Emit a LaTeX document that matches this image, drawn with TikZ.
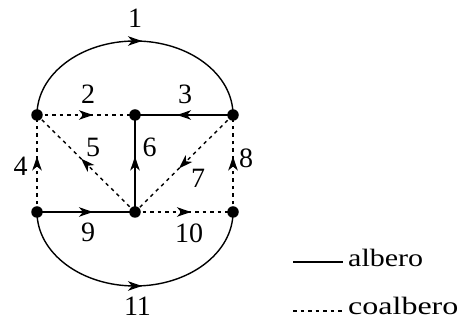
\documentclass[tikz,border=0pt]{standalone}
\usepackage{graphicx}
\usepackage{fontspec}
\setmainfont{Liberation Serif}
\usetikzlibrary{arrows.meta,decorations.markings}
\begin{document}
\begin{tikzpicture}[x=1pt,y=1pt,
  vtx/.style={circle,fill,inner sep=0pt,minimum size=11.5pt},
  edge/.style={line width=1.4pt},
  coedge/.style={line width=1.4pt,dash pattern=on 3.5pt off 4pt},
  midarrow/.style={postaction={decorate,decoration={markings,mark=at position 0.5 with {\arrow[xshift=7pt]{Stealth[length=14pt,width=9.5pt,inset=4pt]}}}}},
  lbl/.style={font=\fontsize{28}{28}\selectfont,inner sep=0pt},
  leg/.style={font=\fontsize{25}{25}\selectfont,inner sep=0pt,anchor=base west}]
\useasboundingbox (0,0) rectangle (463,320);
\coordinate (A) at (37,205);
\coordinate (B) at (135,205);
\coordinate (C) at (233,205);
\coordinate (D) at (37,108);
\coordinate (E) at (135,108);
\coordinate (F) at (233,108);
% tree edges
\draw[edge,midarrow] (A) arc[start angle=180,end angle=0,x radius=98,y radius=74];
\draw[edge,midarrow] (C) -- (B);
\draw[edge,midarrow] (E) -- (B);
\draw[edge,midarrow] (D) -- (E);
\draw[edge,midarrow] (D) arc[start angle=180,end angle=360,x radius=98,y radius=74];
% cotree edges
\draw[coedge,midarrow] (A) -- (B);
\draw[coedge,midarrow] (D) -- (A);
\draw[coedge,midarrow] (E) -- (A);
\draw[coedge,midarrow] (C) -- (E);
\draw[coedge,midarrow] (F) -- (C);
\draw[coedge,midarrow] (E) -- (F);
% vertices
\foreach \p in {A,B,C,D,E,F} \node[vtx] (v\p) at (\p) {};
% labels
\node[lbl] (l1) at (135,301.5) {1};
\node[lbl] (l2) at (88,225.5) {2};
\node[lbl] (l3) at (185,226) {3};
\node[lbl] (l4) at (20.5,154) {4};
\node[lbl] (l5) at (93,172.5) {5};
\node[lbl] (l6) at (149.5,172.5) {6};
\node[lbl] (l7) at (198,142) {7};
\node[lbl] (l8) at (246,162) {8};
\node[lbl] (l9) at (88,88) {9};
\node[lbl] (l10) at (189,87) {10};
\node[lbl] (l11) at (137.5,14) {11};
% legend
\coordinate (s1) at (293,58);
\coordinate (s2) at (343,58);
\draw[edge] (s1) -- (s2);
\node[leg] (t1) at (348,53) {\scalebox{1.2}[1]{albero}};
\coordinate (d1) at (293,9);
\coordinate (d2) at (343,9);
\draw[coedge] (d1) -- (d2);
\node[leg] (t2) at (348,5) {\scalebox{1.28}[1]{coalbero}};
\end{tikzpicture}
\end{document}
